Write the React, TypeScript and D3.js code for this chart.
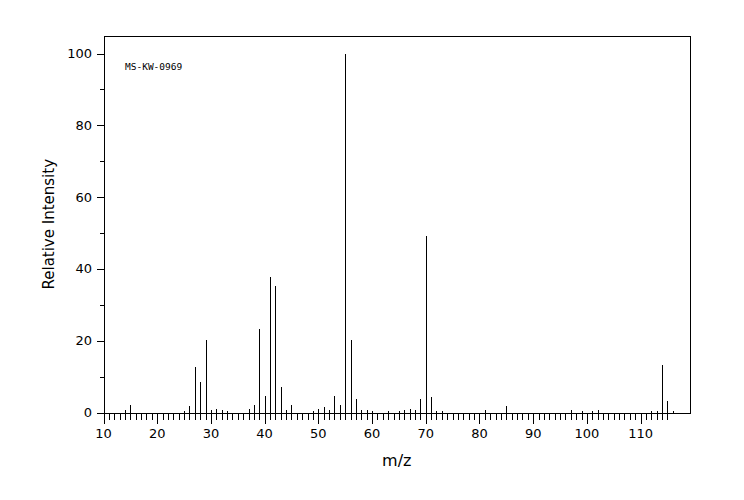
import React, { useEffect, useRef } from 'react';
import * as d3 from 'd3';

// m/z positions and relative intensities
const mzValues = [
  14, 15, 25, 26, 27, 28, 29, 30, 31, 32, 33, 37, 38, 39, 40, 41, 42, 43, 44, 45,
  49, 50, 51, 52, 53, 54, 55, 56, 57, 58, 59, 60, 63, 65, 66, 67, 68, 69, 70, 71,
  72, 73, 81, 85, 97, 99, 101, 102, 112, 113, 114, 115, 116,
];
const intensities = [
  0.6, 2.2, 0.3, 1.9, 12.8, 8.4, 20.1, 0.6, 1.1, 0.8, 0.3, 1.1, 2.2, 23.2, 4.7, 37.7, 35.2, 7.0, 0.6, 2.2,
  0.3, 1.1, 1.4, 0.6, 4.5, 2.2, 100, 20.1, 3.9, 0.6, 0.6, 0.3, 0.3, 0.3, 0.6, 1.1, 0.8, 3.9, 49.2, 4.2,
  0.3, 0.3, 0.6, 1.7, 0.6, 0.5, 0.5, 0.6, 0.3, 0.3, 13.1, 3.1, 0.3,
];
const xTickLabels = [10, 20, 30, 40, 50, 60, 70, 80, 90, 100, 110];
const yTickLabels = [0, 20, 40, 60, 80, 100];
const sampleId = 'MS-KW-0969';

const App: React.FC = () => {
  const svgRef = useRef<SVGSVGElement>(null);

  useEffect(() => {
    if (!svgRef.current) return;
    const svg = d3.select(svgRef.current);
    svg.selectAll('*').remove();

    const left = 103.5;
    const right = 690;
    const top = 36;
    const bottom = 412.5;
    const font = '"DejaVu Sans", sans-serif';

    const x = d3.scaleLinear().domain([10, 119.2]).range([left, right]);
    const y = d3.scaleLinear().domain([0, 104.9]).range([bottom, top]);
    const px = (v: number) => Math.round(v) + 0.5;

    const g = svg.append('g').attr('shape-rendering', 'crispEdges');

    // frame
    g.append('rect')
      .attr('x', px(left) - 0.5 + 0.5)
      .attr('y', px(top))
      .attr('width', Math.round(right) - Math.round(left))
      .attr('height', Math.round(bottom) - Math.round(top))
      .attr('fill', 'none')
      .attr('stroke', '#000');

    // x ticks: every unit, major every 10
    const xTicks = d3.range(10, 116);
    g.selectAll('.xtick')
      .data(xTicks)
      .enter().append('line')
      .attr('x1', d => px(x(d)))
      .attr('x2', d => px(x(d)))
      .attr('y1', px(bottom))
      .attr('y2', d => px(bottom) + (d % 10 === 0 ? 10 : 6))
      .attr('stroke', '#000');

    svg.selectAll('.xlabel')
      .data(xTickLabels)
      .enter().append('text')
      .attr('x', d => x(d))
      .attr('y', 438)
      .attr('text-anchor', 'middle')
      .style('font-family', font)
      .style('font-size', '13px')
      .text(d => d);

    // y ticks: every 10, major every 20
    const yTicks = d3.range(0, 101, 10);
    g.selectAll('.ytick')
      .data(yTicks)
      .enter().append('line')
      .attr('x1', px(left))
      .attr('x2', d => px(left) - (d % 20 === 0 ? 8 : 5))
      .attr('y1', d => px(y(d)))
      .attr('y2', d => px(y(d)))
      .attr('stroke', '#000');

    svg.selectAll('.ylabel')
      .data(yTickLabels)
      .enter().append('text')
      .attr('x', 92)
      .attr('y', d => y(d))
      .attr('dy', '0.35em')
      .attr('text-anchor', 'end')
      .style('font-family', font)
      .style('font-size', '13px')
      .text(d => d);

    // peaks
    const peaks = mzValues.map((mz, i) => ({ mz, v: intensities[i] }));
    g.selectAll('.peak')
      .data(peaks)
      .enter().append('line')
      .attr('x1', d => px(x(d.mz)))
      .attr('x2', d => px(x(d.mz)))
      .attr('y1', px(bottom))
      .attr('y2', d => Math.round(y(d.v)))
      .attr('stroke', '#000');

    // axis titles
    svg.append('text')
      .attr('x', (left + right) / 2)
      .attr('y', 466)
      .attr('text-anchor', 'middle')
      .style('font-family', font)
      .style('font-size', '16px')
      .text('m/z');

    svg.append('text')
      .attr('transform', `translate(54, ${(top + bottom) / 2}) rotate(-90)`)
      .attr('text-anchor', 'middle')
      .style('font-family', font)
      .style('font-size', '15px')
      .text('Relative Intensity');

    svg.append('text')
      .attr('x', 125)
      .attr('y', 70)
      .style('font-family', '"DejaVu Sans Mono", monospace')
      .style('font-size', '9.5px')
      .text(sampleId);
  }, []);

  return (
    <svg
      ref={svgRef}
      width={744}
      height={500}
      style={{ position: 'absolute', left: 0, top: 0, background: '#fff' }}
    />
  );
};

export default App;
